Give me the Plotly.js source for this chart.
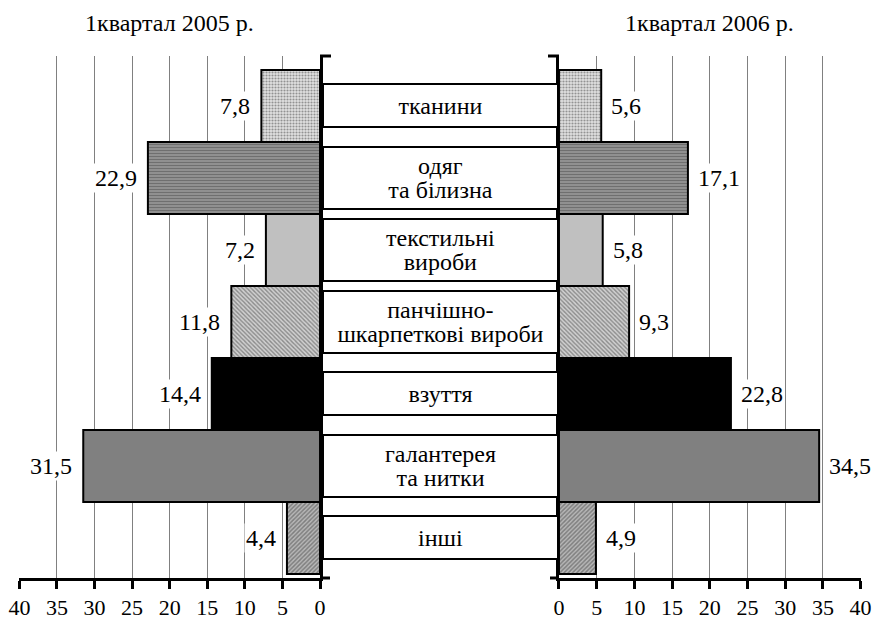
<!DOCTYPE html>
<html>
<head>
<meta charset="utf-8">
<script src="https://cdn.plot.ly/plotly-3.0.1.min.js"></script>
<style>
html,body{margin:0;padding:0;background:#fff;}
#chart{width:872px;height:622px;}
</style>
</head>
<body>
<div id="chart"></div>
<script>
// ---- data ----
const categories = ['тканини', 'одяг<br>та білизна', 'текстильні<br>вироби', 'панчішно-<br>шкарпеткові вироби', 'взуття', 'галантерея<br>та нитки', 'інші'];
const values2005 = [7.8, 22.9, 7.2, 11.8, 14.4, 31.5, 4.4];
const values2006 = [5.6, 17.1, 5.8, 9.3, 22.8, 34.5, 4.9];
const labels2005 = ['7,8', '22,9', '7,2', '11,8', '14,4', '31,5', '4,4'];
const labels2006 = ['5,6', '17,1', '5,8', '9,3', '22,8', '34,5', '4,9'];
const title2005 = '1квартал 2005 р.';
const title2006 = '1квартал 2006 р.';

// ---- styles ----
const FONT = 'Liberation Serif';
const patShape = ['.', '-', '', '\\', '', '', '/'];
const patFg = ['#666666', '#111111', '#000000', '#222222', '#000000', '#000000', '#111111'];
const patSize = [3, 3, 4, 3, 4, 4, 3];
const patSolid = [0.4, 0.5, 0.3, 0.45, 0.3, 0.3, 0.5];
const fillColor = ['#e0e0e0', '#9a9a9a', '#c0c0c0', '#d0d0d0', '#000000', '#808080', '#b8b8b8'];

function barTrace(vals, xa, ya) {
  return {
    type: 'bar', orientation: 'h',
    x: vals, y: categories,
    xaxis: xa, yaxis: ya,
    width: 1,
    marker: {
      color: fillColor,
      line: {color: '#000', width: 2},
      pattern: {shape: patShape, fgcolor: patFg, size: patSize, solidity: patSolid, fillmode: 'overlay'}
    },
    hoverinfo: 'skip'
  };
}

const traces = [barTrace(values2005, 'x', 'y'), barTrace(values2006, 'x2', 'y2')];

const annotations = [];
values2005.forEach((v, i) => annotations.push({
  x: v, y: categories[i], xref: 'x', yref: 'y', xanchor: 'right', yanchor: 'middle',
  xshift: -9, text: labels2005[i], showarrow: false, bgcolor: '#fff', borderpad: 1,
  font: {family: FONT, size: 24, color: '#000'}
}));
values2006.forEach((v, i) => annotations.push({
  x: v, y: categories[i], xref: 'x2', yref: 'y2', xanchor: 'left', yanchor: 'middle',
  xshift: 8, text: labels2006[i], showarrow: false, bgcolor: '#fff', borderpad: 1,
  font: {family: FONT, size: 24, color: '#000'}
}));
categories.forEach((c, i) => {
  const lines = c.split('<br>');
  annotations.push({
    x: 0.5, xref: 'paper', y: c, yref: 'y', xanchor: 'center', yanchor: 'middle',
    text: lines.map(s => '<span style="font-size:24px">' + s + '</span>').join('<br>'),
    showarrow: false, bgcolor: '#fff', bordercolor: '#000', borderwidth: 2, borderpad: 0,
    width: 233, height: lines.length > 1 ? 60 : 41, valign: 'middle', align: 'center',
    font: {family: FONT, size: 19, color: '#000'}
  });
});
annotations.push({x: 0.5, xref: 'x domain', y: 1, yref: 'paper', yanchor: 'middle', yshift: 33,
  text: title2005, showarrow: false, font: {family: FONT, size: 24, color: '#000'}});
annotations.push({x: 0.5, xref: 'x2 domain', y: 1, yref: 'paper', yanchor: 'middle', yshift: 33,
  text: title2006, showarrow: false, font: {family: FONT, size: 24, color: '#000'}});

const xcommon = {
  dtick: 5, tick0: 0, showgrid: true, gridcolor: '#808080', gridwidth: 1,
  showline: true, linecolor: '#000', linewidth: 3, zeroline: false,
  ticks: 'outside', ticklen: 8, tickwidth: 3, tickcolor: '#000',
  ticklabeloverflow: 'allow',
  tickfont: {family: FONT, size: 22, color: '#000'}, fixedrange: true
};
const ycommon = {
  type: 'category', categoryorder: 'array', categoryarray: categories,
  showline: true, linecolor: '#000', linewidth: 3, showgrid: false, zeroline: false,
  showticklabels: false, ticks: '', fixedrange: true
};

const layout = {
  width: 872, height: 622,
  font: {family: FONT, color: '#000'},
  margin: {l: 19, r: 11, t: 56, b: 44},
  paper_bgcolor: '#fff', plot_bgcolor: '#fff',
  showlegend: false, bargap: 0,
  xaxis: Object.assign({}, xcommon, {domain: [0, 0.3575], range: [40.05, 0], anchor: 'y'}),
  xaxis2: Object.assign({}, xcommon, {domain: [0.6413, 1], range: [0, 40.05], anchor: 'y2'}),
  yaxis: Object.assign({}, ycommon, {anchor: 'x', side: 'right', range: [6.556, -0.694]}),
  yaxis2: Object.assign({}, ycommon, {anchor: 'x2', side: 'left', matches: 'y'}),
  annotations: annotations,
  shapes: [
    {type: 'line', xref: 'x domain', yref: 'y domain', x0: 1, x1: 1 + 11 / 301, y0: 1, y1: 1, line: {color: '#000', width: 3}},
    {type: 'line', xref: 'x2 domain', yref: 'y2 domain', x0: -11 / 302, x1: 0, y0: 1, y1: 1, line: {color: '#000', width: 3}},
    {type: 'line', xref: 'x domain', yref: 'y domain', x0: 1, x1: 1 + 10 / 301, y0: 0, y1: 0, line: {color: '#000', width: 3}},
    {type: 'line', xref: 'x2 domain', yref: 'y2 domain', x0: -9 / 302, x1: 0, y0: 0, y1: 0, line: {color: '#000', width: 3}}
  ]
};

Plotly.newPlot('chart', traces, layout, {staticPlot: true, displayModeBar: false});
</script>
</body>
</html>
